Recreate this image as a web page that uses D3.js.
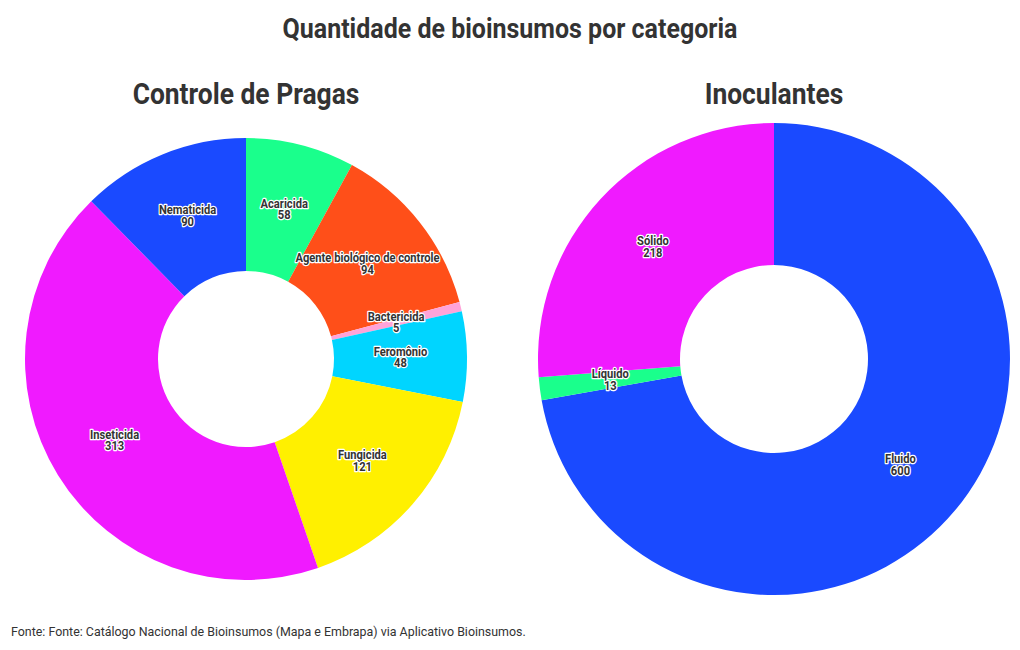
<!DOCTYPE html>
<html>
<head>
<meta charset="utf-8">
<script src="https://cdn.jsdelivr.net/npm/d3@7"></script>
<style>
  body { margin: 0; background: #fff; }
  text { font-family: Roboto, "Noto Sans", sans-serif; fill: #333; }
</style>
</head>
<body>
<svg id="chart"></svg>
<script>
// data
var pragasCats = ["Acaricida", "Agente biológico de controle", "Bactericida", "Feromônio", "Fungicida", "Inseticida", "Nematicida"];
var pragasVals = [58, 94, 5, 48, 121, 313, 90];
var pragasColors = ["#1aff8c", "#ff4f19", "#ffa3d9", "#00d5ff", "#fff000", "#f01aff", "#1a4aff"];

var inocCats = ["Fluido", "Líquido", "Sólido"];
var inocVals = [600, 13, 218];
var inocColors = ["#1a4aff", "#1aff8c", "#f01aff"];

var width = 1020, height = 650;

var svg = d3.select("#chart")
    .attr("width", width)
    .attr("height", height);

// squeeze Roboto a bit so it looks like the condensed face
function condense(sel, f) {
    sel.each(function() {
        var len = this.getComputedTextLength();
        d3.select(this).attr("textLength", len * f).attr("lengthAdjust", "spacingAndGlyphs");
    });
}

svg.append("text")
    .attr("x", 510).attr("y", 38)
    .attr("text-anchor", "middle")
    .style("font-size", "27px").style("font-weight", "bold")
    .text("Quantidade de bioinsumos por categoria")
    .call(condense, 0.925);

svg.append("text")
    .attr("x", 11).attr("y", 636)
    .style("font-size", "13px")
    .text("Fonte: Fonte: Catálogo Nacional de Bioinsumos (Mapa e Embrapa) via Aplicativo Bioinsumos.")
    .call(condense, 0.955);

function donut(cx, cy, rOuter, rInner, title, titleY, cats, vals, colors) {
    var g = svg.append("g").attr("transform", "translate(" + cx + "," + cy + ")");

    svg.append("text")
        .attr("x", cx).attr("y", titleY)
        .attr("text-anchor", "middle")
        .style("font-size", "30px").style("font-weight", "bold")
        .text(title)
        .call(condense, 0.88);

    var items = cats.map(function(c, i) { return {cat: c, val: vals[i], color: colors[i]}; });

    var pie = d3.pie().sort(null).value(function(d) { return d.val; });
    var arc = d3.arc().innerRadius(rInner).outerRadius(rOuter);
    var mid = (rInner + rOuter) / 2;
    var labelArc = d3.arc().innerRadius(mid).outerRadius(mid);

    var arcs = pie(items);

    g.selectAll("path.slice")
        .data(arcs)
        .enter().append("path")
        .attr("class", "slice")
        .attr("d", arc)
        .attr("fill", function(d) { return d.data.color; });

    var lab = g.selectAll("g.lab")
        .data(arcs)
        .enter().append("g")
        .attr("class", "lab")
        .attr("transform", function(d) { return "translate(" + labelArc.centroid(d) + ")"; });

    [["cat", -1.5], ["val", 10]].forEach(function(p) {
        lab.append("text")
            .attr("text-anchor", "middle")
            .attr("y", p[1])
            .style("font-size", "12px").style("font-weight", "bold")
            .style("stroke", "#fff").style("stroke-width", "2.5px")
            .style("paint-order", "stroke").style("stroke-linejoin", "round")
            .text(function(d) { return d.data[p[0]]; })
            .call(condense, 0.93);
    });
}

donut(246, 359, 221, 88, "Controle de Pragas", 104, pragasCats, pragasVals, pragasColors);
donut(774, 359, 236, 94, "Inoculantes", 104, inocCats, inocVals, inocColors);
</script>
</body>
</html>
